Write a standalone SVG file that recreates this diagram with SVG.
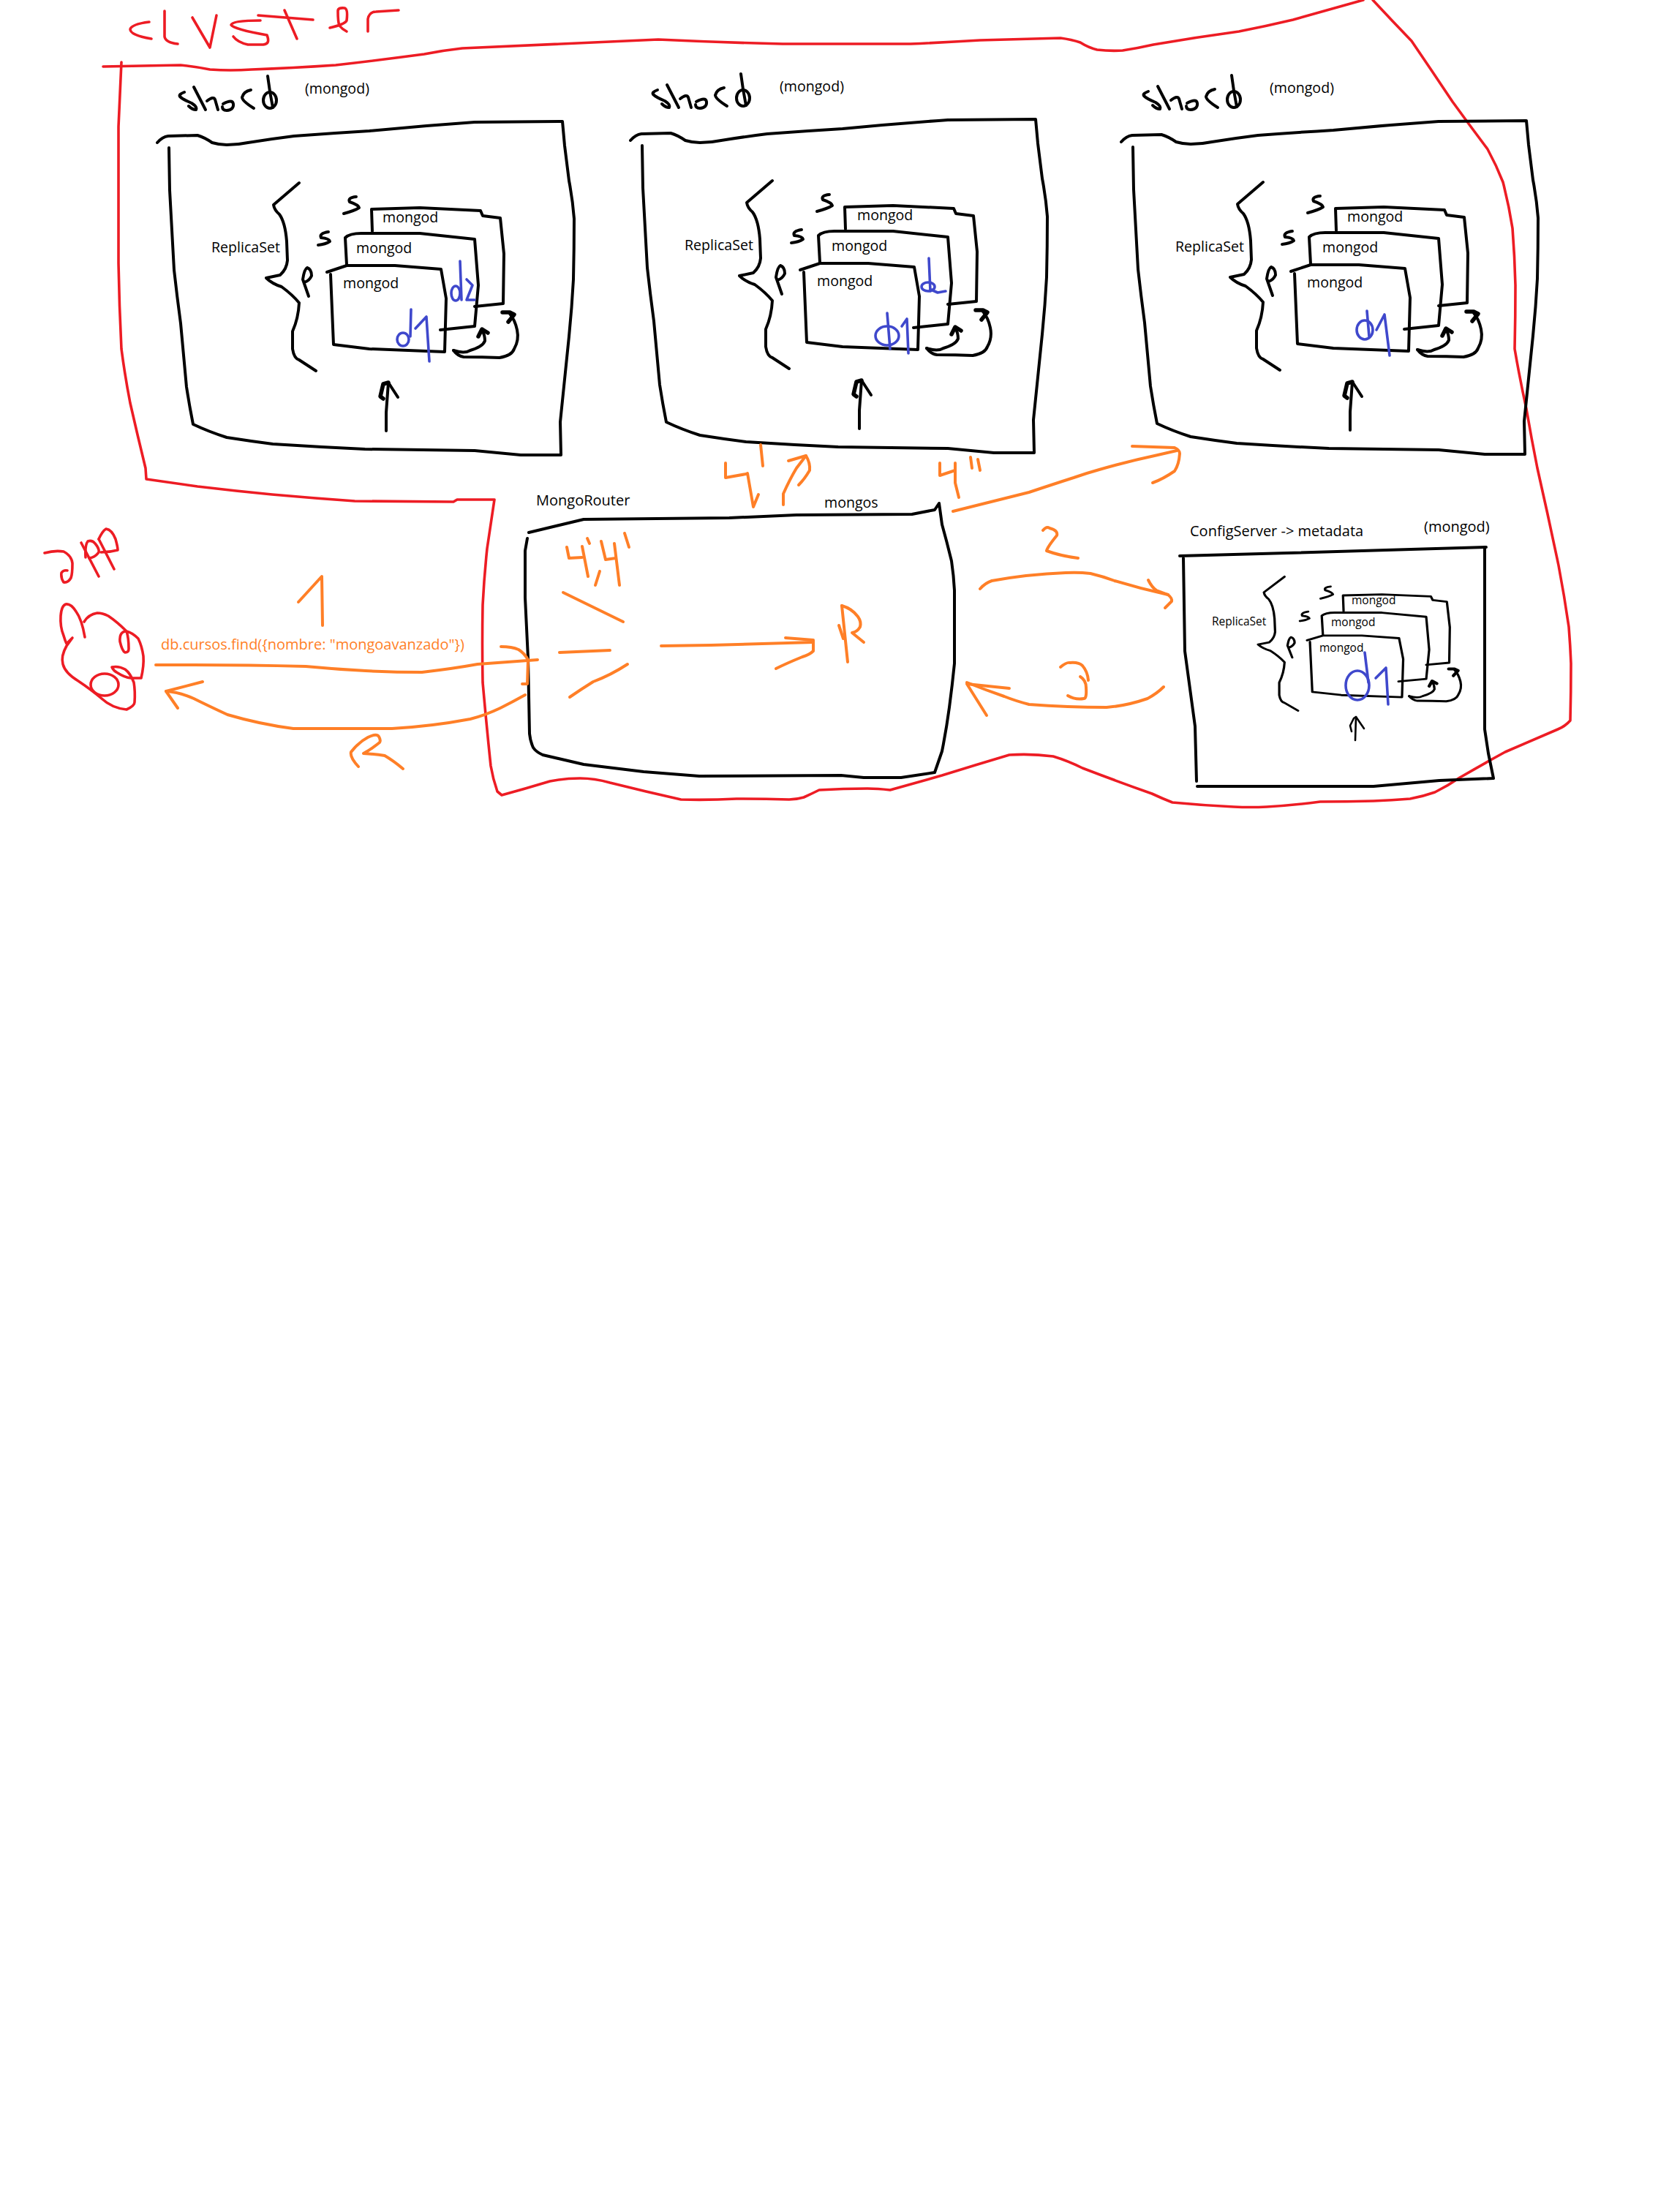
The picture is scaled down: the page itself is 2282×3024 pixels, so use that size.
<svg xmlns="http://www.w3.org/2000/svg" width="2282" height="3024" viewBox="0 0 2282 3024">
<style>
polyline,ellipse,path{fill:none;stroke-linecap:round;stroke-linejoin:round}
.k{stroke:#000;stroke-width:4}
.h{stroke:#000;stroke-width:5.5}
.r{stroke:#ed1c24;stroke-width:3.6}
.o{stroke:#ff7f27;stroke-width:4}
.b{stroke:#3f48cc;stroke-width:3.6}
text{font-family:"Open Sans","Noto Sans","Liberation Sans",sans-serif;font-size:19.6px;fill:#000}
.m{font-size:15.5px}
.ot{fill:#ff7f27}
</style>
<defs>
<g id="frame">
<path class="k" d="M215 195 Q222 187 230 186 L270 185 Q280 188 290 195 Q300 198 310 198 Q325 198 339 195 Q370 190 402 186 Q455 182 505 179 Q577 172 649 167 L769 166 L772 199 Q775 223 778 247 Q783 273 785 299 Q785 340 784 382 Q782 420 778 460 Q772 518 766 577 L767 622 L712 622 Q680 619 649 616 Q575 615 499 614 Q435 611 373 607 Q342 603 310 598 Q285 590 264 580 Q259 555 255 529 Q251 485 247 442 Q242 405 238 369 Q235 315 232 260 L231 202"/>
</g>
<g id="shard-word">
<path class="k" d="M252 126 Q244 129 246 132 Q250 136 262 141 Q270 146 268 150 Q263 150 258 145"/>
<polyline class="k" points="265,119 281,150"/>
<path class="k" d="M283 138 Q292 131 294 136 L298 150"/>
<path class="k" d="M305 142 Q318 135 319 142 Q320 150 310 151 Q304 151 304 146"/>
<path class="k" d="M347 148 Q331 138 331 133 Q333 125 343 123"/>
<ellipse class="k" cx="369" cy="137" rx="9" ry="11"/>
<polyline class="k" points="366,104 369,125 373,147"/>
</g>
<g id="replica">
<path class="k" d="M409 250 L374 280 Q375 287 382 293 Q390 304 392 330 L393 356 Q392 368 383 376 L364 380 Q372 388 385 392 Q400 403 409 414 Q408 435 400 453 L400 477 Q402 490 409 492 L432 507"/>
<path class="k" d="M487 269 Q475 270 478 276 Q490 280 491 284 Q485 288 470 292"/>
<path class="k" d="M449 317 Q436 319 439 325 Q450 326 451 330 Q445 334 435 335"/>
<path class="k" d="M422 405 L414 382 Q416 368 420 366 Q426 368 426 377 Q423 384 416 386"/>
<path class="k" d="M509 316 L508 286 L574 284 L657 288 L660 295 L684 298 L689 347 L688 415 L649 419"/>
<path class="k" d="M474 362 L472 325 Q478 319 494 319 L574 319 L649 327 L654 390 L649 446 L602 451"/>
<path class="k" d="M447 372 L474 363 L540 363 L603 368 L610 408 L608 481 L505 477 L456 471 L452 375"/>
<path class="k" d="M620 479 Q635 484 643 479 Q660 474 663 466 Q663 458 659 451"/>
<polyline class="h" points="654,460 659,450 667,455"/>
<path class="k" d="M620 479 Q626 487 634 488 Q660 488 683 489 Q700 486 703 477 Q710 465 707 451 Q704 437 697 429"/>
<polyline class="h" points="687,427 697,427 703,430 695,440"/>
</g>
<g id="up">
<polyline class="k" points="528,589 528,564 531,523"/>
<polyline class="h" points="524,545 520,542 524,525 531,523"/>
<polyline class="k" points="531,523 544,543"/>
</g>
</defs>

<g id="cluster">
<path class="r" d="M141 91 L247 89 Q267 91 287 95 Q315 97 344 95 Q400 93 459 89 Q520 82 580 74 Q605 69 632 66 L900 54 Q985 58 1070 60 L1245 60 Q1290 58 1340 55 L1450 52 Q1465 54 1477 58 Q1488 65 1500 68 Q1518 70 1535 69 Q1555 66 1577 61 Q1635 51 1694 43 Q1730 36 1768 27 L1864 0"/>
<path class="r" d="M1877 0 Q1903 28 1930 56 Q1958 97 1986 139 Q2010 172 2034 204 Q2046 226 2055 249 Q2063 280 2068 312 Q2071 350 2072 390 Q2072 433 2071 477 Q2078 518 2087 559 Q2094 600 2102 640 Q2117 706 2131 773 Q2139 815 2145 857 Q2147 882 2148 907 Q2148 946 2147 985 Q2140 993 2130 997 Q2095 1012 2058 1028 Q2027 1045 1996 1063 Q1980 1074 1962 1083 Q1945 1089 1928 1092 Q1903 1094 1878 1095 Q1842 1096 1805 1096 Q1768 1101 1732 1103 Q1710 1104 1687 1103 Q1645 1101 1603 1097 Q1590 1092 1575 1085 Q1527 1068 1480 1050 Q1460 1040 1440 1034 Q1410 1030 1380 1032 Q1333 1046 1288 1060 Q1252 1070 1217 1080 Q1200 1078 1186 1078 Q1153 1078 1120 1080 Q1110 1085 1099 1090 Q1089 1093 1079 1093 Q1043 1092 1007 1092 Q969 1094 931 1093 Q882 1082 834 1070 Q813 1064 793 1064 Q772 1064 752 1068 Q719 1078 686 1087 L680 1082 Q674 1065 671 1047 Q665 990 660 933 Q659 880 660 827 Q662 788 666 750 L676 683 L625 683 L620 686 L485 685 Q428 681 372 676 Q320 671 270 665 L200 655 L199 640 Q188 595 178 551 Q171 515 166 477 Q163 418 162 360 L162 173 L166 85"/>
<path class="r" d="M204 30 Q180 33 178 40 Q178 48 207 53"/>
<path class="r" d="M225 15 L225 50 Q226 58 243 60"/>
<polyline class="r" points="263,24 287,65 296,21"/>
<path class="r" d="M356 28 Q318 28 316 34 Q320 40 365 48 Q370 60 360 61 L339 61 Q325 58 319 50"/>
<polyline class="r" points="353,21 428,27"/>
<polyline class="r" points="389,14 406,53"/>
<path class="r" d="M451 38 Q472 33 474 28 Q476 12 471 11 Q462 10 462 15 Q462 30 464 35 Q468 40 474 43"/>
<path class="r" d="M503 43 L503 26 Q505 16 514 16 L545 14"/>
</g>

<g id="app">
<path class="r" d="M61 756 Q75 752 87 754 Q98 760 99 770 Q99 785 97 790 Q93 797 87 796 Q83 790 84 783 Q87 779 92 780"/>
<polyline class="r" points="111,742 135,788"/>
<path class="r" d="M117 762 Q116 745 120 740 Q126 738 130 743 Q136 750 135 755 Q130 762 122 763"/>
<path class="r" d="M135 737 Q140 726 145 723 Q153 724 158 737 Q161 748 161 752 Q150 755 138 755"/>
<polyline class="r" points="135,737 156,778"/>
<path class="r" d="M116 871 Q112 847 104 836 Q97 825 90 826 Q84 828 83 842 Q82 857 87 869 Q89 876 91 880 L99 872 L91 883 Q83 897 86 908 Q89 920 107 931 Q125 943 139 955 Q153 968 173 970 Q184 965 184 960 Q185 945 183 933 Q178 920 171 915 Q162 910 153 912 Q155 917 161 920 Q170 926 179 927 L193 927 Q197 910 196 897 Q194 883 189 873 Q181 865 173 863 Q163 863 164 877 Q167 890 171 892 Q176 892 176 887 Q176 872 173 863 Q160 850 148 842 Q140 838 133 838 Q121 840 115 850"/>
<ellipse class="r" cx="143" cy="936" rx="19" ry="15"/>
</g>

<g id="shard-1">
<use href="#shard-word"/><use href="#frame"/><use href="#replica"/><use href="#up"/>
<text x="417" y="128">(mongod)</text>
<text x="289" y="345">ReplicaSet</text>
<text x="523" y="304">mongod</text>
<text x="487" y="346">mongod</text>
<text x="469" y="394">mongod</text>
<polyline class="b" points="562,423 561,460"/><ellipse class="b" cx="551" cy="464" rx="8" ry="9"/>
<polyline class="b" points="568,449 583,433 587,494"/>
<polyline class="b" points="629,357 631,410"/><ellipse class="b" cx="623" cy="401" rx="6" ry="10"/>
<polyline class="b" points="638,382 646,390 638,410 649,410"/>
</g>

<g id="shard-2">
<g transform="translate(647,-3)"><use href="#shard-word"/><use href="#frame"/><use href="#replica"/><use href="#up"/></g>
<text x="1066" y="125">(mongod)</text>
<text x="936" y="342">ReplicaSet</text>
<text x="1172" y="301">mongod</text>
<text x="1137" y="343">mongod</text>
<text x="1117" y="391">mongod</text>
<polyline class="b" points="1213,428 1217,477"/><ellipse class="b" cx="1213" cy="459" rx="16" ry="13"/>
<polyline class="b" points="1233,446 1240,436 1242,483"/>
<polyline class="b" points="1270,353 1272,398"/><ellipse class="b" cx="1269" cy="392" rx="9" ry="6"/>
<polyline class="b" points="1273,396 1282,400 1293,398"/>
</g>

<g id="shard-3">
<g transform="translate(1318,-1)"><use href="#shard-word"/><use href="#frame"/><use href="#replica"/><use href="#up"/></g>
<text x="1736" y="127">(mongod)</text>
<text x="1607" y="344">ReplicaSet</text>
<text x="1842" y="303">mongod</text>
<text x="1808" y="345">mongod</text>
<text x="1787" y="393">mongod</text>
<polyline class="b" points="1869,425 1872,460"/><ellipse class="b" cx="1866" cy="451" rx="11" ry="13"/>
<polyline class="b" points="1882,451 1893,430 1900,486"/>
</g>

<g id="mongo-router">
<path class="k" d="M723 728 L798 710 L997 708 L1089 704 L1247 703 L1278 697 L1284 688 L1288 717 Q1295 742 1301 767 Q1304 787 1305 807 L1305 907 Q1302 937 1298 967 Q1294 997 1288 1027 L1278 1056 L1232 1063 L1181 1063 L1150 1060 L956 1061 L880 1055 L798 1045 L742 1032 Q733 1028 729 1022 Q725 1013 724 1003 L722 900 L718 817 L718 753 L721 736"/>
<text x="733" y="691" style="font-size:20px">MongoRouter</text>
<text x="1127" y="694">mongos</text>
</g>

<g id="config-server">
<polyline class="k" points="1613,760 1760,756 1929,751 2032,748"/>
<polyline class="k" points="2030,748 2030,997 2035,1030 2042,1064 1968,1067 1878,1075 1637,1075"/>
<polyline class="k" points="1636,1068 1634,993 1620,890 1618,763"/>
<g transform="matrix(.807 0 0 .713 1426.3 610.1)"><use href="#replica"/></g>
<polyline class="k" style="stroke-width:2.6" points="1853,1012 1854,980"/>
<polyline class="k" style="stroke-width:2.6" points="1848,1000 1846,992 1851,982 1854,980 1865,996"/>
<text x="1627" y="733" style="font-size:20px">ConfigServer -&gt; metadata</text>
<text x="1947" y="727" style="font-size:20px">(mongod)</text>
<text class="m" x="1657" y="855">ReplicaSet</text>
<text class="m" x="1848" y="826">mongod</text>
<text class="m" x="1820" y="856">mongod</text>
<text class="m" x="1804" y="891">mongod</text>
<polyline class="b" points="1866,892 1871,933"/><ellipse class="b" cx="1856" cy="937" rx="16" ry="20"/>
<polyline class="b" points="1881,927 1895,913 1898,963"/>
</g>

<g id="connectors">
<path class="o" d="M213 909 L265 909 Q340 909 418 911 Q460 915 500 917 Q540 919 577 919 Q620 914 653 908 L735 902"/>
<path class="o" d="M685 884 Q700 884 709 888 Q717 893 722 902 L721 935 L714 935"/>
<path class="o" d="M718 950 Q700 960 684 968 Q663 978 643 983 Q590 993 536 996 L401 996 Q355 990 311 977 Q285 965 265 955 Q245 946 227 945"/>
<polyline class="o" points="277,932 227,945 243,968"/>
<polyline class="o" points="904,883 972,882 1112,878"/>
<path class="o" d="M1074 872 L1112 875 L1112 890 Q1107 895 1097 898 Q1075 907 1061 914"/>
<polyline class="o" points="770,810 852,850"/>
<polyline class="o" points="765,892 834,889"/>
<path class="o" d="M858 908 Q835 923 811 932 Q795 942 779 953"/>
<path class="o" d="M1303 699 Q1355 686 1407 673 Q1440 662 1468 653 Q1485 647 1503 642 Q1545 630 1583 622 L1609 616"/>
<path class="o" d="M1548 610 L1606 612 Q1613 615 1613 620 Q1612 635 1606 644 Q1590 655 1576 660"/>
<path class="o" d="M1340 805 Q1347 797 1356 794 Q1405 785 1457 783 Q1475 782 1491 784 Q1508 788 1524 794 Q1560 805 1597 813"/>
<path class="o" d="M1570 793 Q1575 803 1581 807 L1597 813 Q1603 818 1602 822 L1593 831"/>
<path class="o" d="M1591 939 Q1582 948 1569 955 Q1540 965 1513 967 Q1460 967 1407 963 Q1388 958 1373 952 Q1347 943 1322 933"/>
<polyline class="o" points="1380,941 1322,935 1349,978"/>
<path class="o" d="M1071 690 L1071 675 Q1080 655 1089 640 L1102 623 L1078 630"/>
<path class="o" d="M1102 623 Q1108 633 1107 643 Q1100 655 1092 663"/>
</g>

<g id="orange-labels">
<text class="ot" x="220" y="888" style="font-size:20px">db.cursos.find({nombre: "mongoavanzado"})</text>
<polyline class="o" points="408,823 440,788 441,855"/>
<path class="o" d="M490 1048 Q478 1035 480 1028 Q490 1015 503 1008 Q515 1002 518 1007 Q521 1012 519 1015 Q508 1024 497 1030 Q515 1031 526 1033 Q538 1040 551 1051"/>
<polyline class="o" points="775,748 778,763 796,762"/><polyline class="o" points="796,747 804,788"/><polyline class="o" points="803,736 806,743"/>
<polyline class="o" points="820,781 814,800"/>
<polyline class="o" points="822,740 828,765 842,763"/><polyline class="o" points="840,743 847,800"/><polyline class="o" points="854,729 860,748"/>
<polyline class="o" points="1151,828 1159,905"/><polyline class="o" points="1147,855 1153,873"/>
<path class="o" d="M1151 828 Q1165 832 1173 843 Q1178 850 1176 857 Q1172 864 1165 865 L1181 878"/>
<polyline class="o" points="992,633 992,653 1020,648"/><polyline class="o" points="1022,647 1030,693 1037,676"/><polyline class="o" points="1040,608 1043,637"/>
<polyline class="o" points="1285,633 1285,650 1306,643"/><polyline class="o" points="1306,633 1306,660 1311,680"/>
<polyline class="o" points="1327,625 1329,640"/><polyline class="o" points="1337,628 1340,643"/>
<path class="o" d="M1426 725 Q1431 719 1435 722 Q1447 725 1445 732 Q1432 748 1431 753 Q1450 760 1474 763"/>
<path class="o" d="M1450 912 Q1458 905 1463 906 Q1475 905 1480 910 Q1487 918 1488 930"/>
<path class="o" d="M1477 925 Q1485 930 1485 940 Q1486 955 1482 955 Q1470 957 1460 951"/>
</g>
</svg>
